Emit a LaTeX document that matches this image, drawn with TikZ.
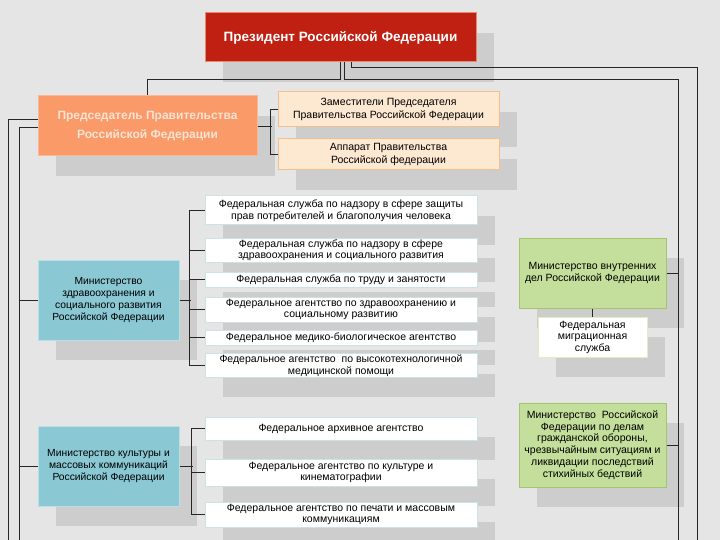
\documentclass[tikz,border=0pt]{standalone}
\usepackage{fontspec}
\setmainfont{Liberation Sans}
\usetikzlibrary{shadows}

\definecolor{bggray}{HTML}{E5E5E5}
\definecolor{shadowgray}{HTML}{CDCDCD}
\definecolor{presred}{HTML}{BF2011}
\definecolor{presline}{HTML}{E58A70}
\definecolor{predfill}{HTML}{F99A68}
\definecolor{predline}{HTML}{FBB895}
\definecolor{predtext}{HTML}{FDE3D3}
\definecolor{zamfill}{HTML}{FDE8D2}
\definecolor{zamline}{HTML}{F6BE8C}
\definecolor{tealfill}{HTML}{8AC8D3}
\definecolor{tealline}{HTML}{B8E0E6}
\definecolor{greenfill}{HTML}{C4DF9B}
\definecolor{greenline}{HTML}{A5C46E}
\definecolor{subline}{HTML}{C8E4E4}
\definecolor{fmsline}{HTML}{E4EDC0}

\tikzset{
  box/.style={draw, line width=1pt, align=center, inner sep=1pt,
    drop shadow={shadow xshift=18pt, shadow yshift=-20pt, fill=shadowgray, opacity=1}},
  presbox/.style={box, fill=presred, draw=presline, text=white,
    font=\fontsize{13.5}{15}\selectfont\bfseries},
  predbox/.style={box, fill=predfill, draw=predline, text=predtext,
    font=\fontsize{12}{19}\selectfont\bfseries},
  zambox/.style={box, fill=zamfill, draw=zamline, font=\fontsize{10.5}{12.5}\selectfont},
  minbox/.style={box, fill=tealfill, draw=tealline, font=\fontsize{10.3}{11.8}\selectfont},
  greenbox/.style={box, fill=greenfill, draw=greenline, font=\fontsize{10.5}{11.8}\selectfont},
  subbox/.style={box, fill=white, draw=subline, font=\fontsize{10.5}{11.5}\selectfont},
  link/.style={line width=0.9pt, black!85}
}

\begin{document}
\begin{tikzpicture}[x=1pt, y=-1pt]
        \fill[bggray] (0,0) rectangle (720,540);
        \useasboundingbox (0,0) rectangle (720,540);

        % top level
        \node[presbox, minimum width=271pt, minimum height=49pt] (pres) at (340.5,37.5)
        {Президент Российской Федерации};
        \node[predbox, minimum width=219pt, minimum height=60pt] (pred) at (147.5,126)
        {Председатель Правительства\\Российской Федерации};
        \node[zambox, minimum width=221pt, minimum height=35pt] (zam) at (388.5,109.5)
        {Заместители Председателя\\Правительства Российской Федерации};
        \node[zambox, minimum width=221pt, minimum height=31pt] (app) at (388.5,154.5)
        {Аппарат Правительства\\Российской федерации};

        % health ministry
        \node[minbox, minimum width=141pt, minimum height=80pt] (mzsr) at (108.5,300)
        {Министерство\\здравоохранения и\\социального развития\\Российской Федерации};
        \node[subbox, minimum width=272pt, minimum height=29pt] (h1) at (341,210.5)
        {Федеральная служба по надзору в сфере защиты\\прав потребителей и благополучия человека};
        \node[subbox, minimum width=272pt, minimum height=24pt] (h2) at (341,250)
        {Федеральная служба по надзору в сфере\\здравоохранения и социального развития};
        \node[subbox, minimum width=272pt, minimum height=15pt] (h3) at (341,279.5)
        {Федеральная служба по труду и занятости};
        \node[subbox, minimum width=272pt, minimum height=25pt] (h4) at (341,309.5)
        {Федеральное агентство по здравоохранению и\\социальному развитию};
        \node[subbox, minimum width=272pt, minimum height=15pt] (h5) at (341,337.5)
        {Федеральное медико-биологическое агентство};
        \node[subbox, minimum width=272pt, minimum height=23pt] (h6) at (341,365.5)
        {Федеральное агентство\ \ по высокотехнологичной\\медицинской помощи};

        % culture ministry
        \node[minbox, minimum width=141pt, minimum height=80pt] (mkmk) at (108.5,466)
        {Министерство культуры и\\массовых коммуникаций\\Российской Федерации};
        \node[subbox, minimum width=272pt, minimum height=23pt] (c1) at (341,428.5)
        {Федеральное архивное агентство};
        \node[subbox, minimum width=272pt, minimum height=27pt] (c2) at (341,472.5)
        {Федеральное агентство по культуре и\\кинематографии};
        \node[subbox, minimum width=272pt, minimum height=25pt] (c3) at (341,514.5)
        {Федеральное агентство по печати и массовым\\коммуникациям};

        % right column
        \node[greenbox, minimum width=147pt, minimum height=70pt] (mvd) at (592.5,273)
        {Министерство внутренних\\дел Российской Федерации};
        \node[subbox, draw=fmsline, minimum width=109pt, minimum height=40pt] (fms) at (592.5,337)
        {Федеральная\\миграционная\\служба};
        \node[greenbox, minimum width=147pt, minimum height=84pt] (mchs) at (592.5,445)
        {Министерство\ \ Российской\\Федерации по делам\\гражданской обороны,\\чрезвычайным ситуациям и\\ликвидации последствий\\стихийных бедствий};

        % long vertical lines at the edges
        \coordinate (lA) at (8,540);
        \coordinate (lB) at (19,540);
        \coordinate (rA) at (678,540);
        \coordinate (rB) at (697,540);

        \draw[link] (pres.south) -- ++(0,17) -| (pred.north);
        \draw[link] ([xshift=4pt]pres.south) -- ++(0,17) -| (rA);
        \draw[link] ([xshift=11pt]pres.south) -- ++(0,5) -| (rB);
        \draw[link] ([yshift=7pt]pred.west) -| (lA);
        \draw[link] ([yshift=-1pt]pred.west) -| (lB);
        \draw[link] (mzsr.west) -- (lB |- mzsr.west);
        \draw[link] (mkmk.west) -- (lB |- mkmk.west);
        \draw[link] (mvd.east) -- (rA |- mvd.east);
        \draw[link] (mchs.east) -- (rA |- mchs.east);
        \draw[link] (mvd.south) -- (fms.north);

        % brackets
        \draw[link] (pred.east) -- ++(14,0);
        \draw[link] (zam.west) -- ++(-7,0) |- (app.west);
        \draw[link] (mzsr.east) -- ++(11,0);
        \draw[link] (h1.west) -- ++(-15,0) |- (h6.west);
        \foreach \s in {h2,h3,h4,h5}
        \draw[link] (\s.west) -- ++(-15,0);
        \draw[link] (mkmk.east) -- ++(13,0);
        \draw[link] (c1.west) -- ++(-13,0) |- (c3.west);
        \draw[link] (c2.west) -- ++(-13,0);
\end{tikzpicture}
\end{document}
